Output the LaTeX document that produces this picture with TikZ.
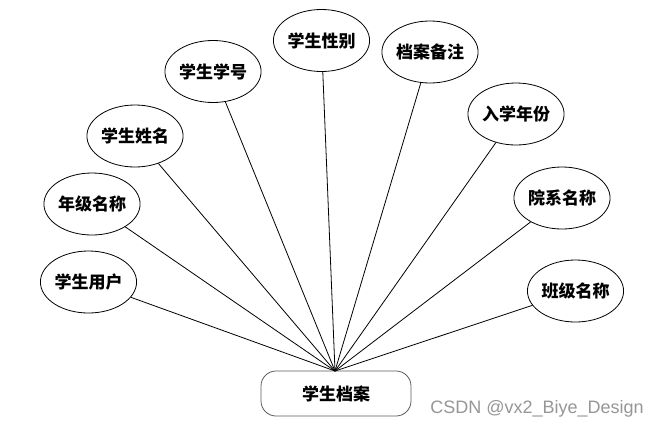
\documentclass[tikz,border=0pt]{standalone}
\usepackage{fontspec}
\setmainfont{Liberation Sans}
\newfontfamily\cjk{Noto Sans CJK SC}
\usetikzlibrary{shapes.geometric}
\definecolor{ERGray}{RGB}{150,150,150}
\definecolor{ERFrame}{RGB}{90,90,90}

\begin{document}
\begin{tikzpicture}[x=1pt,y=-1pt,line width=.8pt,
    attr/.style={draw,ellipse,minimum width=95pt,minimum height=62pt,inner sep=0pt,
      font=\cjk\bfseries\fontsize{17}{17}\selectfont},
    entity/.style={draw=ERFrame,rounded corners=15pt,minimum width=150pt,minimum height=45pt,
      font=\cjk\bfseries\fontsize{17}{17}\selectfont}]
      \useasboundingbox (0,0) rectangle (661,429);
      \node[entity] (dangan) at (336,393.5) {学生档案};
      \coordinate (hub) at (335,371);
      \node[attr] (yonghu) at (88.5,282) {学生用户};
      \node[attr] (nianji) at (92,204) {年级名称};
      \node[attr] (xingming) at (135,136) {学生姓名};
      \node[attr] (xuehao) at (213,71.5) {学生学号};
      \node[attr] (xingbie) at (321.5,40.5) {学生性别};
      \node[attr] (beizhu) at (430,52) {档案备注};
      \node[attr] (nianfen) at (516,114) {入学年份};
      \node[attr] (yuanxi) at (562,198) {院系名称};
      \node[attr] (banji) at (575.5,291) {班级名称};
      \foreach \n in {yonghu,nianji,xingming,xuehao,xingbie,beizhu,nianfen,yuanxi,banji}
        \draw (\n) -- (hub);
      \node[text=ERGray,font=\fontsize{18}{18}\selectfont] (csdn) at (537,409) {CSDN @vx2\_Biye\_Design};
    \end{tikzpicture}
\end{document}
